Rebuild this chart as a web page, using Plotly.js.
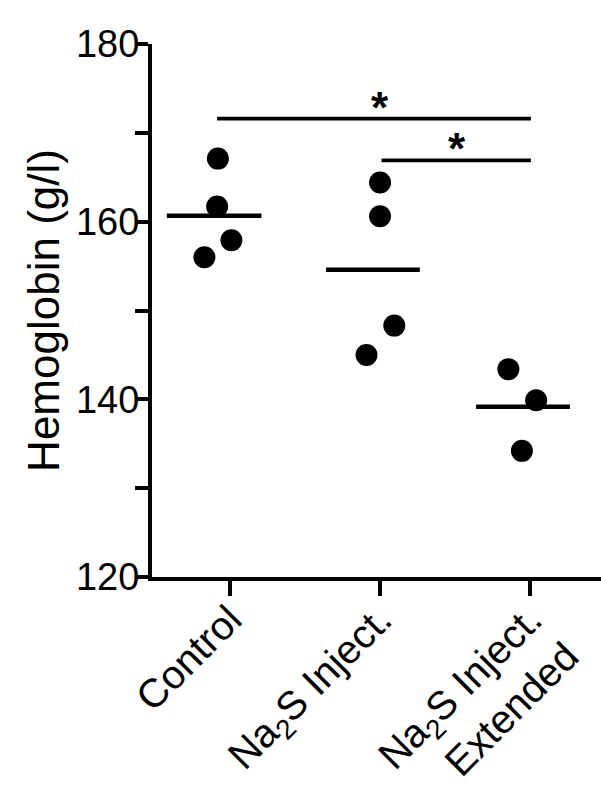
<!DOCTYPE html>
<html>
<head>
<meta charset="utf-8">
<script src="https://cdn.plot.ly/plotly-3.0.1.min.js"></script>
<style>
  html, body { margin: 0; padding: 0; background: #fff; }
  #chart { width: 601px; height: 797px; }
</style>
</head>
<body>
<div id="chart"></div>
<script>
// ---- data ----
var categories = ['Control', 'Na<sub>2</sub>S Inject.', 'Na<sub>2</sub>S Inject.<br>Extended'];
var controlValues  = [167.1, 161.7, 157.9, 156.0];
var injectValues   = [164.4, 160.6, 148.3, 145.0];
var extendedValues = [143.4, 139.9, 134.2];
// horizontal scatter offsets of the dots (category units)
var controlJitter  = [-0.08, -0.085, 0.01, -0.17];
var injectJitter   = [0.0, 0.0, 0.095, -0.09];
var extendedJitter = [-0.145, 0.04, -0.055];
// significance comparisons: [from group, to group, bar level, label]
var comparisons = [[0, 2, 171.6, '*'], [1, 2, 166.9, '*']];
var yTickVals = [120, 140, 160, 180];

var groups = [
  {vals: controlValues, jit: controlJitter},
  {vals: injectValues, jit: injectJitter},
  {vals: extendedValues, jit: extendedJitter}
];

var traces = groups.map(function (g, i) {
  return {
    type: 'scatter', mode: 'markers',
    x: g.jit.map(function (d) { return i + d; }),
    y: g.vals,
    marker: {size: 22, color: '#000'},
    hoverinfo: 'y', showlegend: false, cliponaxis: false
  };
});

function mean(a) { return a.reduce(function (s, v) { return s + v; }, 0) / a.length; }

var shapes = [];
var meanSpan = [[-0.42, 0.21], [-0.36, 0.265], [-0.36, 0.265]];
groups.forEach(function (g, i) {
  var m = mean(g.vals);
  shapes.push({type: 'line', xref: 'x', yref: 'y', x0: i + meanSpan[i][0], x1: i + meanSpan[i][1], y0: m, y1: m,
    line: {color: '#000', width: 4.5}});
});
var annotations = [];
var starOffsets = [{x0: -0.085, sx: 1.0}, {x0: 0.01, sx: 1.51}];
comparisons.forEach(function (c, k) {
  shapes.push({type: 'line', xref: 'x', yref: 'y', x0: c[0] + starOffsets[k].x0, x1: c[1] + 0.005,
    y0: c[2], y1: c[2], line: {color: '#000', width: 3.6}});
  annotations.push({xref: 'x', yref: 'y', x: starOffsets[k].sx, y: c[2], text: '<b>' + c[3] + '</b>',
    showarrow: false, yanchor: 'bottom', xanchor: 'center', yshift: -15,
    font: {family: 'Liberation Sans, Arial, sans-serif', size: 44, color: '#000'}});
});

var layout = {
  width: 601, height: 797,
  margin: {l: 152, r: 0, t: 44, b: 220, pad: 0},
  paper_bgcolor: '#fff', plot_bgcolor: '#fff',
  font: {family: 'Liberation Sans, Arial, sans-serif', color: '#000'},
  showlegend: false,
  xaxis: {
    range: [-0.519, 2.472],
    tickmode: 'array', tickvals: [0, 1, 2], ticktext: categories,
    tickangle: -45,
    ticks: 'outside', ticklen: 15, tickwidth: 4, tickcolor: '#000',
    ticklabelstandoff: -16,
    showline: true, linewidth: 4, linecolor: '#000',
    showgrid: false, zeroline: false,
    tickfont: {size: 40, color: '#000'},
    fixedrange: true
  },
  yaxis: {
    range: [120, 180],
    tickmode: 'array', tickvals: yTickVals,
    ticks: 'outside', ticklen: 13, tickwidth: 4, tickcolor: '#000',
    ticklabelstandoff: -12,
    minor: {dtick: 10, tick0: 120, ticks: 'outside', ticklen: 13, tickwidth: 4, tickcolor: '#000', showgrid: false},
    showline: true, linewidth: 4, linecolor: '#000',
    showgrid: false, zeroline: false,
    tickfont: {size: 38, color: '#000'},
    title: {text: 'Hemoglobin (g/l)', font: {size: 44, color: '#000'}, standoff: 4},
    fixedrange: true
  },
  shapes: shapes,
  annotations: annotations
};

Plotly.newPlot('chart', traces, layout, {displayModeBar: false, staticPlot: true});
</script>
</body>
</html>
